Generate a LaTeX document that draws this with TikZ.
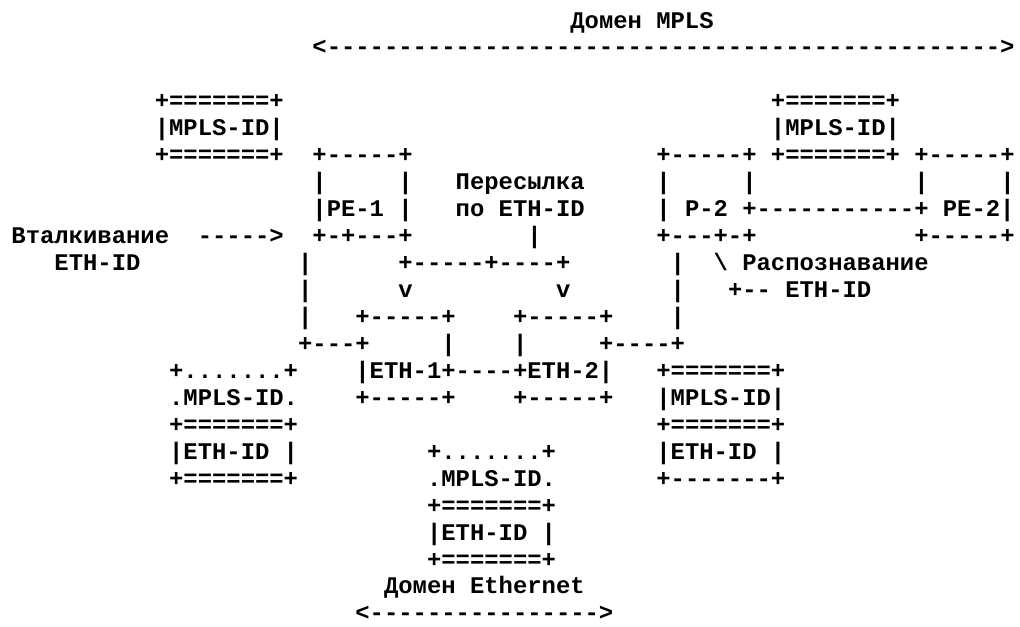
\documentclass[tikz,border=0pt]{standalone}
\usepackage{fontspec}
\setmonofont{Liberation Mono}
\begin{document}
\begin{tikzpicture}[x=0.75pt,y=-0.75pt,
  asc/.style={anchor=base west, inner sep=0pt, outer sep=0pt,
    font=\ttfamily\bfseries\fontsize{17.91}{20}\selectfont}]
\useasboundingbox[fill=white] (0,0) rectangle (1020,626);
% one run of characters: name, column, row, text
\newcommand\asciirun[4]{\node[asc] (#1) at ({11.49+#2*14.33},{28.0+#3*26.95}) {#4};}
% MPLS domain
\asciirun{mplsdom}{39}{0}{Домен MPLS}
\asciirun{mplsarrow}{21}{1}{<----------------------------------------------->}
% top label stacks
\asciirun{lt1}{10}{3}{+=======+}
\asciirun{rt1}{53}{3}{+=======+}
\asciirun{lt2}{10}{4}{|MPLS-ID|}
\asciirun{rt2}{53}{4}{|MPLS-ID|}
\asciirun{lt3}{10}{5}{+=======+}
\asciirun{rt3}{53}{5}{+=======+}
% PE-1
\asciirun{pe1a}{21}{5}{+-----+}
\asciirun{pe1b}{21}{6}{|}
\asciirun{pe1c}{27}{6}{|}
\asciirun{pe1d}{21}{7}{|PE-1 |}
\asciirun{pe1e}{21}{8}{+-+---+}
% P-2 and PE-2
\asciirun{p2a}{45}{5}{+-----+}
\asciirun{pe2a}{63}{5}{+-----+}
\asciirun{p2b}{45}{6}{|}
\asciirun{p2c}{51}{6}{|}
\asciirun{pe2b}{63}{6}{|}
\asciirun{pe2c}{69}{6}{|}
\asciirun{p2d}{45}{7}{| P-2 +-----------+ PE-2|}
\asciirun{p2e}{45}{8}{+---+-+}
\asciirun{pe2e}{63}{8}{+-----+}
% forwarding label
\asciirun{fwd1}{31}{6}{Пересылка}
\asciirun{fwd2}{31}{7}{по ETH-ID}
\asciirun{fwd3}{36}{8}{|}
% push label
\asciirun{push1}{0}{8}{Вталкивание}
\asciirun{push2}{13}{8}{----->}
\asciirun{push3}{3}{9}{ETH-ID}
% left vertical line
\asciirun{lv1}{20}{9}{|}
\asciirun{lv2}{20}{10}{|}
\asciirun{lv3}{20}{11}{|}
\asciirun{lv4}{20}{12}{+---+}
% fork to ETH-1 / ETH-2
\asciirun{fork}{27}{9}{+-----+----+}
\asciirun{va}{27}{10}{v}
\asciirun{vb}{38}{10}{v}
% right vertical line and recognition label
\asciirun{rv1}{46}{9}{|}
\asciirun{rv2}{46}{10}{|}
\asciirun{rv3}{46}{11}{|}
\asciirun{rec1}{49}{9}{\textbackslash{} Распознавание}
\asciirun{rec2}{50}{10}{+-- ETH-ID}
% ETH-1 / ETH-2
\asciirun{e1a}{24}{11}{+-----+}
\asciirun{e2a}{35}{11}{+-----+}
\asciirun{e1b}{30}{12}{|}
\asciirun{e2b}{35}{12}{|}
\asciirun{rv4}{41}{12}{+----+}
\asciirun{e12}{24}{13}{|ETH-1+----+ETH-2|}
\asciirun{e1c}{24}{14}{+-----+}
\asciirun{e2c}{35}{14}{+-----+}
% left label stack
\asciirun{ls1}{11}{13}{+.......+}
\asciirun{ls2}{11}{14}{.MPLS-ID.}
\asciirun{ls3}{11}{15}{+=======+}
\asciirun{ls4}{11}{16}{|ETH-ID |}
\asciirun{ls5}{11}{17}{+=======+}
% right label stack
\asciirun{rs1}{45}{13}{+=======+}
\asciirun{rs2}{45}{14}{|MPLS-ID|}
\asciirun{rs3}{45}{15}{+=======+}
\asciirun{rs4}{45}{16}{|ETH-ID |}
\asciirun{rs5}{45}{17}{+-------+}
% middle label stack
\asciirun{ms1}{29}{16}{+.......+}
\asciirun{ms2}{29}{17}{.MPLS-ID.}
\asciirun{ms3}{29}{18}{+=======+}
\asciirun{ms4}{29}{19}{|ETH-ID |}
\asciirun{ms5}{29}{20}{+=======+}
% Ethernet domain
\asciirun{ethdom}{26}{21}{Домен Ethernet}
\asciirun{etharrow}{24}{22}{<---------------->}
\end{tikzpicture}
\end{document}
